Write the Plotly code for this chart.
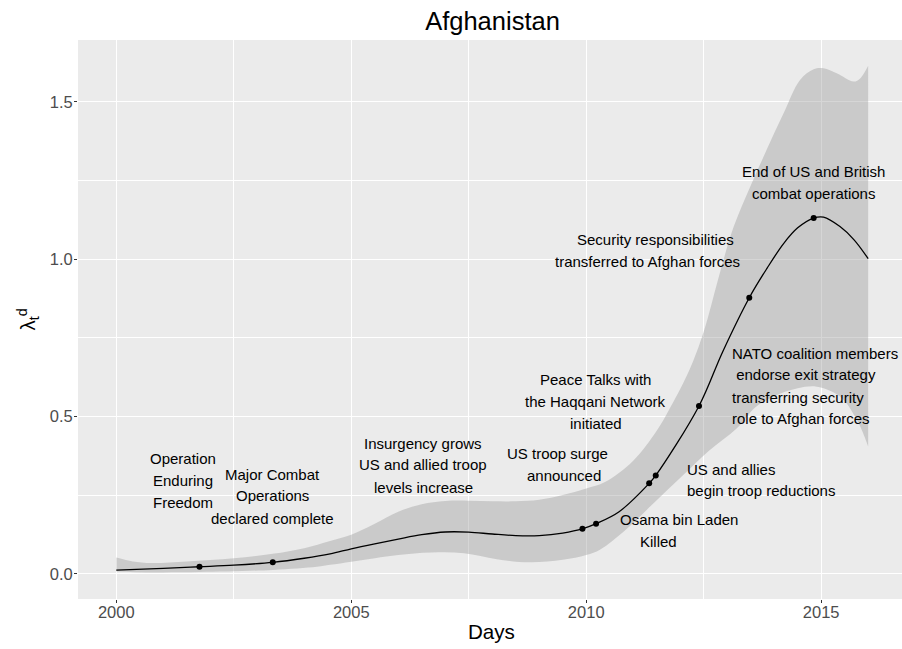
import plotly.graph_objects as go

# ---- data (decimal years) ----
mean_x = [2000.0, 2001.0, 2001.77, 2002.5, 2003.33, 2004.0, 2004.55, 2005.0, 2005.5, 2006.0,
          2006.5, 2007.0, 2007.5, 2008.0, 2008.5, 2009.0, 2009.5, 2009.93, 2010.21, 2010.7,
          2011.34, 2011.48, 2012.4, 2012.9, 2013.47, 2013.85, 2014.2, 2014.5, 2014.84,
          2015.05, 2015.4, 2015.7, 2016.0]
mean_y = [0.012, 0.018, 0.023, 0.028, 0.037, 0.050, 0.064, 0.080, 0.096, 0.111,
          0.125, 0.1335, 0.133, 0.127, 0.122, 0.122, 0.130, 0.144, 0.160, 0.198,
          0.288, 0.313, 0.534, 0.705, 0.878, 0.972, 1.050, 1.100, 1.131,
          1.134, 1.104, 1.062, 1.002]

upper_x = [2000.0, 2000.35, 2000.75, 2001.5, 2002.5, 2003.33, 2004.0, 2004.55, 2005.0, 2005.5,
           2006.0, 2006.5, 2007.0, 2007.5, 2008.0, 2008.5, 2009.0, 2009.5, 2010.0, 2010.4,
           2011.0, 2011.5, 2011.8, 2012.2, 2012.5, 2012.85, 2013.13, 2013.49, 2013.84, 2014.2,
           2014.55, 2014.84, 2015.05, 2015.33, 2015.69, 2015.83, 2016.0]
upper_y = [0.052, 0.040, 0.035, 0.040, 0.050, 0.064, 0.082, 0.105, 0.125, 0.160,
           0.198, 0.222, 0.232, 0.233, 0.231, 0.231, 0.236, 0.251, 0.272, 0.292,
           0.360, 0.455, 0.532, 0.650, 0.770, 0.960, 1.100, 1.231, 1.348, 1.464,
           1.570, 1.604, 1.607, 1.591, 1.565, 1.575, 1.615]

lower_x = [2000.0, 2000.7, 2001.77, 2003.33, 2004.27, 2004.55, 2005.0, 2005.5, 2006.0, 2006.7,
           2007.4, 2008.1, 2008.8, 2009.5, 2010.0, 2010.3, 2010.8, 2011.4, 2012.07, 2012.6,
           2013.2, 2013.6, 2014.0, 2014.5, 2014.91, 2015.4, 2015.76, 2016.0]
lower_y = [0.008, 0.005, 0.006, 0.013, 0.023, 0.029, 0.039, 0.050, 0.060, 0.068,
           0.066, 0.047, 0.037, 0.045, 0.060, 0.078, 0.135, 0.220, 0.315, 0.390,
           0.462, 0.530, 0.565, 0.590, 0.595, 0.564, 0.490, 0.405]

event_x = [2001.77, 2003.33, 2009.92, 2010.21, 2011.34, 2011.48, 2012.40, 2013.47, 2014.84]
event_y = [0.023, 0.037, 0.144, 0.160, 0.288, 0.313, 0.534, 0.878, 1.131]

# label lines: text, x, y, anchor
label_text = ["Operation", "Enduring", "Freedom",
              "Major Combat", "Operations", "declared complete",
              "Insurgency grows", "US and allied troop", "levels increase",
              "US troop surge", "announced",
              "Peace Talks with", "the Haqqani Network", "initiated",
              "Osama bin Laden", "Killed",
              "US and allies", "begin troop reductions",
              "NATO coalition members", "\u00a0endorse exit strategy", "transferring security", "role to Afghan forces",
              "Security responsibilities", "transferred to Afghan forces",
              "End of US and British", "combat operations"]
label_x = [2001.413, 2001.413, 2001.413,
           2003.329, 2003.329, 2003.329,
           2006.535, 2006.535, 2006.535,
           2009.381, 2009.523,
           2010.206, 2010.206, 2010.206,
           2011.971, 2011.531,
           2012.105, 2012.105,
           2013.063, 2013.063, 2013.063, 2013.063,
           2011.473, 2011.313,
           2014.834, 2014.834]
label_y = [0.3678, 0.2966, 0.2266,
           0.3169, 0.2479, 0.1771,
           0.4154, 0.3465, 0.2756,
           0.3814, 0.3115,
           0.6166, 0.5477, 0.4768,
           0.1716, 0.1027,
           0.3328, 0.2638,
           0.7015, 0.6325, 0.5617, 0.4927,
           1.0639, 0.9927,
           1.2788, 1.2101]
label_anchor = ["center"] * 16 + ["left"] * 6 + ["center"] * 4

x_ticks = [2000, 2005, 2010, 2015]
y_ticks = [0.0, 0.5, 1.0, 1.5]

FONT = "Liberation Sans, Arial, Helvetica, sans-serif"

fig = go.Figure()
fig.add_trace(go.Scatter(x=lower_x, y=lower_y, mode="lines", line=dict(width=0, shape="spline"),
                         showlegend=False, hoverinfo="skip"))
fig.add_trace(go.Scatter(x=upper_x, y=upper_y, mode="lines", line=dict(width=0, shape="spline"),
                         fill="tonexty", fillcolor="rgba(153,153,153,0.4)",
                         showlegend=False, hoverinfo="skip"))
fig.add_trace(go.Scatter(x=mean_x, y=mean_y, mode="lines",
                         line=dict(color="black", width=1.3, shape="spline"), showlegend=False))
fig.add_trace(go.Scatter(x=event_x, y=event_y, mode="markers",
                         marker=dict(color="black", size=6), showlegend=False))

for t, x, y, a in zip(label_text, label_x, label_y, label_anchor):
    fig.add_annotation(x=x, y=y, text=t, showarrow=False, xanchor=a, yanchor="middle",
                       font=dict(family=FONT, size=15, color="black"))

# axis titles
fig.add_annotation(xref="paper", yref="paper", x=0.502, y=-32.5 / 559, text="Days",
                   showarrow=False, xanchor="center", yanchor="middle",
                   font=dict(family=FONT, size=20.6, color="black"))
fig.add_annotation(xref="paper", yref="paper", x=-50 / 824, y=0.5, text="λ<sub>t</sub><sup>d</sup>",
                   showarrow=False, xanchor="center", yanchor="middle", textangle=-90,
                   font=dict(family=FONT, size=20.6, color="black"))

fig.update_layout(
    width=902, height=649,
    margin=dict(l=78, r=0, t=40, b=50),
    paper_bgcolor="white", plot_bgcolor="#EBEBEB",
    font=dict(family=FONT),
    title=dict(text="Afghanistan", x=492.5 / 902, xanchor="center", y=1 - 21 / 649, yanchor="middle",
               font=dict(family=FONT, size=25.5, color="black")),
)
fig.update_xaxes(range=[1999.185, 2016.72], tickvals=x_ticks, ticktext=[str(v) for v in x_ticks],
                 showgrid=True, gridcolor="white", gridwidth=1.4, zeroline=False,
                 ticks="outside", ticklen=3, tickcolor="#333333", tickwidth=1,
                 ticklabelstandoff=-5,
                 tickfont=dict(size=16.5, color="#4D4D4D"),
                 minor=dict(showgrid=True, gridcolor="white", gridwidth=0.7,
                            tickvals=[2002.5, 2007.5, 2012.5]))
fig.update_yaxes(range=[-0.0795, 1.697], tickvals=y_ticks, ticktext=["0.0", "0.5", "1.0", "1.5"],
                 showgrid=True, gridcolor="white", gridwidth=1.4, zeroline=False,
                 ticks="outside", ticklen=3, tickcolor="#333333", tickwidth=1,
                 ticklabelstandoff=-2,
                 tickfont=dict(size=16.5, color="#4D4D4D"),
                 minor=dict(showgrid=True, gridcolor="white", gridwidth=0.7,
                            tickvals=[0.25, 0.75, 1.25]))

fig.write_html("out.html", config={"displayModeBar": False},
               post_script="document.body.style.margin='0';document.body.style.overflow='hidden';")
